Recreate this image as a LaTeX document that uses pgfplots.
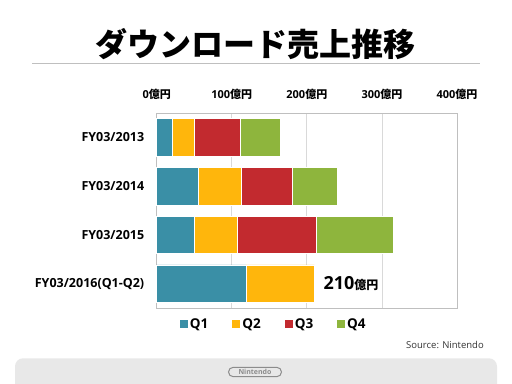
\documentclass[border=0pt]{standalone}
\usepackage{fontspec}
\usepackage{pgfplots}
\pgfplotsset{compat=1.18}
\setmainfont{Open Sans}
\newfontfamily\cjk{Noto Sans CJK JP}
\definecolor{qone}{HTML}{3A8FA6}
\definecolor{qtwo}{HTML}{FFB60C}
\definecolor{qthree}{HTML}{C22A2F}
\definecolor{qfour}{HTML}{8EB53D}
\definecolor{gridgray}{HTML}{D9D9D9}
\definecolor{boxgray}{HTML}{BFBFBF}
\definecolor{bandgray}{HTML}{E8E8E8}
\definecolor{logogray}{HTML}{8C8C8C}
\begin{document}
\begin{tikzpicture}
\useasboundingbox[fill=white] (0,0) rectangle (512bp,384bp);
% title
\node[font=\cjk\bfseries\fontsize{32bp}{36bp}\selectfont, anchor=center] at (255bp,340bp) {ダウンロード売上推移};
\draw[boxgray, line width=0.8bp] (32bp,320.7bp) -- (480bp,320.7bp);
% bottom band
\begin{scope}
\clip (0,0) rectangle (512bp,384bp);
\fill[bandgray, rounded corners=8bp] (15bp,-12bp) rectangle (497bp,25.7bp);
\end{scope}
\draw[logogray, line width=1bp, rounded corners=4.7bp] (228.5bp,7.3bp) rectangle (281.5bp,16.7bp);
\node[font=\bfseries\fontsize{7bp}{8bp}\selectfont, text=logogray, inner sep=0] at (255bp,12bp) {Nintendo};
\node[font=\fontsize{9.5bp}{11bp}\selectfont, text=black!80, anchor=east, inner sep=0] at (484bp,39bp) {Source: Nintendo};
\begin{axis}[
  at={(156.7bp,76bp)}, anchor=south west,
  scale only axis, width=300.3bp, height=195bp,
  xbar stacked, bar width=37.5bp,
  xmin=0, xmax=400, ymin=-0.5, ymax=3.5, y dir=reverse,
  xtick={0,100,200,300,400},
  xticklabels={0{\cjk 億円},100{\cjk 億円},200{\cjk 億円},300{\cjk 億円},400{\cjk 億円}},
  xticklabel pos=upper,
  xticklabel style={font=\bfseries\fontsize{11bp}{12bp}\selectfont, anchor=south, yshift=10bp},
  ytick={0,1,2,3},
  yticklabels={FY03/2013,FY03/2014,FY03/2015,FY03/2016(Q1-Q2)},
  yticklabel style={font=\bfseries\fontsize{12.5bp}{14bp}\selectfont, anchor=east, xshift=-9bp},
  major tick length=0,
  xmajorgrids, grid style={color=gridgray, line width=0.7bp},
  axis line style={color=boxgray, line width=0.8bp},
  legend style={at={(0.39,-0.082)}, anchor=center, draw=none, fill=none,
    font=\bfseries\fontsize{13.5bp}{15bp}\selectfont,
    /tikz/every even column/.append style={column sep=22bp}},
  legend columns=4,
  legend image code/.code={\fill[#1, draw=none] (0bp,-4bp) rectangle (8bp,4bp);},
  every axis plot/.append style={draw=white, line width=0.6bp},
  clip=false,
]
\addplot[fill=qone] coordinates {(21,0) (56,1) (50,2) (119,3)};
\addplot[fill=qtwo] coordinates {(29,0) (57,1) (57,2) (91,3)};
\addplot[fill=qthree] coordinates {(61,0) (67,1) (105,2) (0,3)};
\addplot[fill=qfour] coordinates {(53,0) (60,1) (103,2) (0,3)};
\legend{Q1,Q2,Q3,Q4}
\node[anchor=west, inner sep=0, xshift=9bp] at (axis cs:210,3) {\bfseries\fontsize{18bp}{20bp}\selectfont 210{\cjk\fontsize{12bp}{14bp}\selectfont 億円}};
\end{axis}
\end{tikzpicture}
\end{document}
